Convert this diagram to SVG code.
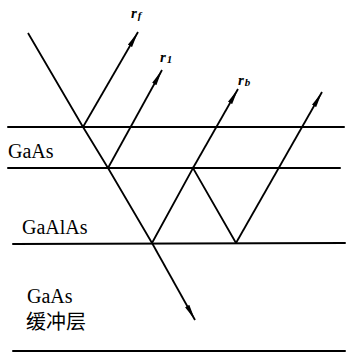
<svg xmlns="http://www.w3.org/2000/svg" width="347" height="354" viewBox="0 0 347 354">
<style>
.ln{stroke:#000;stroke-width:2;fill:none;stroke-linecap:round}
.ray{stroke:#000;stroke-width:1.8;fill:none}
.lab{font-family:"Liberation Serif",serif;font-size:20px;fill:#000}
.cjk{font-family:"Liberation Serif","Noto Sans CJK SC",serif;font-size:20px;fill:#000}
.r{font-family:"Liberation Serif",serif;font-style:italic;font-weight:bold;font-size:15px;fill:#000}
.sub{font-family:"Liberation Serif",serif;font-style:italic;font-weight:bold;font-size:11px;fill:#000}
</style>
<defs>
<marker id="ah" viewBox="0 0 16 6" refX="16" refY="3" markerWidth="16" markerHeight="6" markerUnits="userSpaceOnUse" orient="auto">
<path d="M0,0.6 L16,3 L0,5.4 Z" fill="#000"/>
</marker>
</defs>
<g id="layers">
<line class="ln" x1="8" y1="127" x2="344" y2="127"/>
<line class="ln" x1="8" y1="168" x2="340" y2="168"/>
<line class="ln" x1="13" y1="244" x2="345" y2="243"/>
<line class="ln" x1="13" y1="351" x2="345" y2="351"/>
</g>
<g id="connectors">
<polyline class="ray" points="28,33 83,127 108,168 152,243"/>
<line class="ray" x1="152" y1="243" x2="195" y2="320" marker-end="url(#ah)"/>
<line class="ray" x1="83" y1="127" x2="138" y2="32" marker-end="url(#ah)"/>
<line class="ray" x1="108" y1="168" x2="162" y2="70" marker-end="url(#ah)"/>
<polyline class="ray" points="152,243 193,168 236,243"/>
<line class="ray" x1="193" y1="168" x2="238" y2="89" marker-end="url(#ah)"/>
<line class="ray" x1="236" y1="243" x2="322" y2="92" marker-end="url(#ah)"/>
</g>
<g id="labels">
<text class="lab" x="8" y="158">GaAs</text>
<text class="lab" x="22" y="234">GaAlAs</text>
<text class="lab" x="27" y="303">GaAs</text>
<text class="cjk" x="26" y="329">缓冲层</text>
<text class="r" x="131" y="18">r<tspan class="sub" dy="1" dx="1">f</tspan></text>
<text class="r" x="160" y="62">r<tspan class="sub" dy="1" dx="1">1</tspan></text>
<text class="r" x="238" y="85">r<tspan class="sub" dy="1" dx="1">b</tspan></text>
</g>
</svg>
